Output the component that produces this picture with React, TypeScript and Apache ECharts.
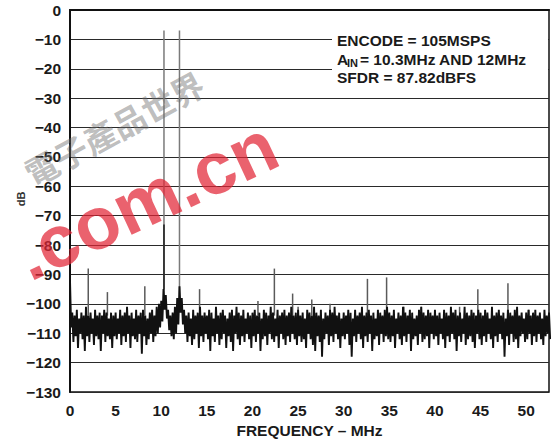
import React, { useEffect, useRef } from "react";
import * as echarts from "echarts";

// Frequency axis (MHz) and level axis (dB)
const X_TICKS = [0, 5, 10, 15, 20, 25, 30, 35, 40, 45, 50];
const X_MAX = 52.5;
const Y_MIN = -130;
const Y_MAX = 0;

// Noise floor trace, one bin per 0.25 MHz: upper and lower excursions (dB)
const NOISE_STEP = 0.25;
const noiseHigh = [
  -92, -103, -104, -102, -105, -103, -104, -101, -104, -103, -105, -102, -104, -103, -104, -102, -103, -105, -103, -104,
  -103, -105, -102, -104, -103, -101, -104, -103, -105, -102, -104, -103, -102, -104, -105, -103, -102, -104, -101, -100,
  -99, -95, -97, -102, -104, -103, -101, -98, -94, -98, -102, -104, -103, -105, -102, -104, -103, -101, -104, -103,
  -104, -102, -103, -105, -101, -104, -103, -102, -104, -105, -103, -102, -104, -101, -103, -104, -102, -105, -103, -104,
  -103, -102, -104, -103, -105, -102, -103, -104, -101, -103, -105, -102, -104, -103, -102, -104, -103, -101, -104, -103,
  -102, -104, -103, -105, -102, -103, -104, -101, -103, -104, -102, -105, -103, -104, -102, -103, -101, -104, -103, -105,
  -103, -104, -102, -103, -105, -102, -104, -103, -101, -104, -103, -102, -104, -103, -105, -102, -103, -104, -102, -101,
  -103, -104, -102, -105, -103, -104, -101, -103, -104, -102, -103, -105, -104, -102, -101, -103, -104, -102, -103, -104,
  -102, -104, -103, -105, -102, -103, -104, -101, -103, -102, -104, -103, -105, -101, -103, -104, -102, -103, -104, -102,
  -103, -104, -102, -103, -105, -101, -104, -103, -102, -104, -103, -105, -102, -103, -104, -102, -101, -104, -103, -105,
  -103, -102, -104, -103, -102, -104, -103, -105, -102, -104, -103,
];
const noiseLow = [
  -108, -113, -111, -115, -110, -112, -116, -111, -113, -110, -114, -111, -112, -116, -110, -113, -111, -112, -115, -111,
  -112, -110, -114, -111, -113, -110, -115, -111, -112, -113, -110, -117, -111, -114, -112, -110, -113, -111, -110, -108,
  -106, -102, -105, -109, -111, -112, -110, -107, -103, -107, -110, -113, -111, -114, -112, -110, -115, -111, -113, -110,
  -112, -116, -111, -113, -110, -114, -112, -110, -115, -111, -113, -116, -110, -112, -114, -111, -113, -110, -112, -115,
  -111, -113, -110, -116, -112, -111, -114, -110, -112, -113, -111, -115, -110, -112, -114, -111, -113, -110, -112, -114,
  -111, -113, -112, -115, -110, -112, -114, -116, -111, -113, -118, -112, -110, -114, -111, -113, -110, -112, -115, -111,
  -112, -110, -114, -118, -111, -113, -110, -112, -115, -111, -113, -110, -116, -112, -111, -114, -110, -113, -111, -112,
  -113, -111, -115, -110, -112, -114, -111, -113, -110, -116, -112, -111, -114, -110, -113, -112, -111, -115, -110, -112,
  -111, -114, -110, -112, -115, -111, -113, -110, -112, -116, -111, -113, -110, -114, -112, -111, -113, -115, -110, -112,
  -114, -111, -113, -110, -112, -115, -111, -113, -110, -112, -118, -111, -114, -110, -113, -112, -115, -111, -110, -113,
  -112, -110, -114, -111, -113, -110, -112, -114, -111, -110, -112,
];

// Spurious tones: frequency (MHz) and peak level (dB)
const spurFreqs = [2.0, 4.1, 8.2, 14.2, 20.6, 22.4, 24.4, 25.0, 26.5, 28.5, 32.6, 34.7, 36.6, 38.5, 42.7, 44.7, 48.0, 50.3];
const spurLevels = [-88, -96, -94, -95, -99, -88, -96.5, -101, -98.5, -100, -91.5, -91, -101, -101, -101, -95, -93, -102];
const SPUR_BASE = -104;

// Fundamental input tones
const toneFreqs = [10.3, 12.0];
const toneLevels = [-7, -7];
const TONE_BASE = -100;
// darker lower part of the first tone
const toneCoreFreqs = [10.3];
const toneCoreLevels = [-73];
const TONE_CORE_BASE = -95;

const annotationLines = ["ENCODE = 105MSPS", "= 10.3MHz AND 12MHz", "SFDR = 87.82dBFS"];
const Y_AXIS_TITLE = "dB";
const X_AXIS_TITLE = "FREQUENCY \u2013 MHz";

const FONT = "'Liberation Sans', Arial, Helvetica, sans-serif";

function fmtY(v: number) {
  return v < 0 ? "\u2212" + Math.abs(v) : String(v);
}

function lineRenderer(base: number, stroke: string, width: number) {
  return (params: any, api: any) => {
    const f = api.value(0);
    const top = api.value(1);
    const p1 = api.coord([f, base]);
    const p2 = api.coord([f, top]);
    return {
      type: "line",
      shape: { x1: p1[0], y1: p1[1], x2: p2[0], y2: p2[1] },
      style: { stroke, lineWidth: width },
    };
  };
}

export default function App() {
  const ref = useRef<HTMLDivElement>(null);

  useEffect(() => {
    if (!ref.current) return;
    const chart = echarts.init(ref.current, null, { renderer: "svg" });

    const noiseData: (number[])[] = [];
    for (let i = 0; i < noiseHigh.length; i++) {
      noiseData.push([i * NOISE_STEP, noiseHigh[i]]);
      noiseData.push([i * NOISE_STEP + NOISE_STEP / 2, noiseLow[i]]);
    }
    const spurData = spurFreqs.map((f, i) => [f, spurLevels[i]]);
    const toneData = toneFreqs.map((f, i) => [f, toneLevels[i]]);
    const toneCoreData = toneCoreFreqs.map((f, i) => [f, toneCoreLevels[i]]);

    const option: any = {
      animation: false,
      backgroundColor: "#ffffff",
      textStyle: { fontFamily: FONT },
      grid: {
        left: 70,
        right: 4,
        top: 10,
        bottom: 49,
        containLabel: false,
        outerBoundsMode: "none",
        show: true,
        borderColor: "#111",
        borderWidth: 1.5,
        backgroundColor: "transparent",
      },
      xAxis: {
        type: "value",
        min: 0,
        max: X_MAX,
        interval: 5,
        axisLine: { show: true, lineStyle: { color: "#111", width: 2 } },
        axisTick: { show: false },
        splitLine: { show: false },
        axisLabel: {
          showMaxLabel: false,
          margin: 10,
          color: "#1a1a1a",
          fontSize: 15.5,
          fontWeight: "bold",
          fontFamily: FONT,
          formatter: (v: number) => (X_TICKS.includes(v) ? String(v) : ""),
        },
        name: X_AXIS_TITLE,
        nameLocation: "middle",
        nameGap: 29,
        nameTextStyle: { color: "#1a1a1a", fontSize: 15.5, fontWeight: "bold", fontFamily: FONT },
      },
      yAxis: {
        type: "value",
        min: Y_MIN,
        max: Y_MAX,
        interval: 10,
        axisLine: { show: true, lineStyle: { color: "#111", width: 2 } },
        axisTick: { show: false },
        splitLine: { show: true, lineStyle: { color: "#2a2a2a", width: 1.2 } },
        axisLabel: {
          margin: 9,
          color: "#1a1a1a",
          fontSize: 15.5,
          fontWeight: "bold",
          fontFamily: FONT,
          formatter: fmtY,
        },
      },
      series: [
        {
          type: "custom",
          name: "spurs",
          renderItem: lineRenderer(SPUR_BASE, "#5a5a5a", 1.5),
          data: spurData,
          z: 2,
        },
        {
          type: "custom",
          name: "tones",
          renderItem: lineRenderer(TONE_BASE, "#7a7a7a", 1.5),
          data: toneData,
          z: 2,
        },
        {
          type: "custom",
          name: "toneCore",
          renderItem: lineRenderer(TONE_CORE_BASE, "#1a1a1a", 1.5),
          data: toneCoreData,
          z: 3,
        },
        {
          type: "line",
          name: "noise",
          data: noiseData,
          showSymbol: false,
          symbol: "none",
          lineStyle: { color: "#111111", width: 1.9, join: "miter" },
          clip: true,
          z: 4,
        },
      ],
      graphic: [
        {
          type: "text",
          x: 21,
          y: 199,
          rotation: Math.PI / 2,
          style: {
            text: Y_AXIS_TITLE,
            fill: "#333",
            font: `bold 11px ${FONT}`,
            textAlign: "center",
            textVerticalAlign: "middle",
          },
          z: 5,
        },
        {
          type: "rect",
          shape: { x: 332, y: 28, width: 216, height: 62 },
          style: { fill: "#ffffff" },
          z: 10,
        },
        {
          type: "text",
          x: 337,
          y: 40,
          style: {
            text: annotationLines[0],
            fill: "#1a1a1a",
            font: `bold 15.5px ${FONT}`,
            textVerticalAlign: "middle",
          },
          z: 11,
        },
        {
          type: "text",
          x: 337,
          y: 59,
          style: { text: "A", fill: "#1a1a1a", font: `bold 15.5px ${FONT}`, textVerticalAlign: "middle" },
          z: 11,
        },
        {
          type: "text",
          x: 347,
          y: 63,
          style: { text: "IN", fill: "#1a1a1a", font: `bold 11px ${FONT}`, textVerticalAlign: "middle" },
          z: 11,
        },
        {
          type: "text",
          x: 360,
          y: 59,
          style: {
            text: annotationLines[1],
            fill: "#1a1a1a",
            font: `bold 15.5px ${FONT}`,
            textVerticalAlign: "middle",
          },
          z: 11,
        },
        {
          type: "text",
          x: 337,
          y: 77,
          style: {
            text: annotationLines[2],
            fill: "#1a1a1a",
            font: `bold 15.5px ${FONT}`,
            textVerticalAlign: "middle",
          },
          z: 11,
        },
        // watermark
        {
          type: "text",
          x: 114,
          y: 128,
          rotation: 0.5,
          style: {
            text: "電子產品世界",
            fill: "rgba(110,110,110,0.45)",
            font: `bold 33px 'Noto Sans CJK TC', sans-serif`,
            textAlign: "center",
            textVerticalAlign: "middle",
          },
          z: 20,
        },
        {
          type: "text",
          x: 146,
          y: 200,
          rotation: 0.436,
          style: {
            text: ".com.cn",
            fill: "rgba(226,38,54,0.72)",
            font: `bold 74px ${FONT}`,
            textAlign: "center",
            textVerticalAlign: "middle",
          },
          z: 20,
        },
      ],
    };

    chart.setOption(option);
    return () => chart.dispose();
  }, []);

  return <div ref={ref} style={{ position: "fixed", left: 0, top: 0, width: 553, height: 441 }} />;
}
